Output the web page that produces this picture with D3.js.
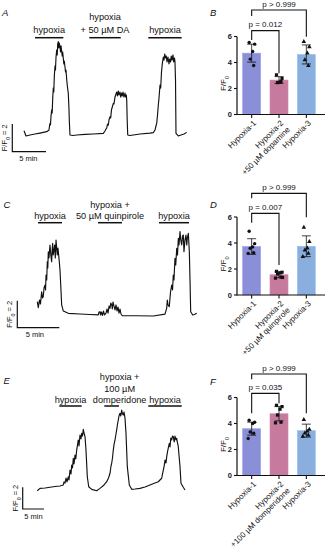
<!DOCTYPE html>
<html><head><meta charset="utf-8">
<script src="https://cdn.jsdelivr.net/npm/d3@7"></script>
<style>body{margin:0;background:#fff}svg{display:block;font-family:"Liberation Sans",Arial,sans-serif}</style>
</head><body><svg id="c" width="327" height="550"></svg>
<script>
// ---------------- DATA ----------------
// Traces: [time (min), F/F0]
const traceA = [[0,1.31],[0.30,0.93],[0.89,1.00],[1.63,1.07],[2.37,1.14],[3.37,1.24],[3.71,1.36],[3.78,1.65],[3.86,1.84],[3.93,1.72],[4.01,2.37],[4.11,2.81],[4.18,2.59],[4.26,3.67],[4.35,4.39],[4.42,4.11],[4.50,5.26],[4.60,5.98],[4.67,5.69],[4.75,6.63],[4.85,7.14],[4.93,6.78],[5.00,7.57],[5.09,7.74],[5.16,7.28],[5.24,7.64],[5.34,7.35],[5.42,6.99],[5.49,7.43],[5.59,7.06],[5.67,6.70],[5.74,6.99],[5.83,6.56],[5.91,6.13],[5.98,6.34],[6.08,5.91],[6.16,5.55],[6.23,5.69],[6.34,4.97],[6.45,4.47],[6.57,4.01],[6.68,2.81],[6.72,2.08],[6.82,1.00],[7.27,0.96],[7.82,1.00],[9.05,1.04],[10.28,1.07],[11.77,1.12],[12.02,1.29],[12.17,1.43],[12.27,1.51],[12.39,1.79],[12.51,1.72],[12.61,2.08],[12.76,2.32],[12.86,2.23],[12.98,2.81],[13.10,3.02],[13.25,3.29],[13.35,3.24],[13.50,3.74],[13.65,3.96],[13.75,4.10],[13.87,3.82],[13.99,4.18],[14.09,3.89],[14.24,4.10],[14.36,3.74],[14.47,4.03],[14.58,3.82],[14.69,4.10],[14.84,3.74],[14.99,4.03],[15.09,3.74],[15.18,3.89],[15.24,3.53],[15.31,2.08],[15.39,1.00],[15.73,0.96],[17.21,1.07],[18.69,1.14],[19.18,1.17],[19.44,1.36],[19.58,1.65],[19.69,1.84],[19.81,2.44],[19.93,3.17],[20.03,3.67],[20.18,4.61],[20.28,4.39],[20.40,5.55],[20.52,6.13],[20.67,6.63],[20.77,6.41],[20.88,6.85],[20.99,6.56],[21.11,6.70],[21.22,6.27],[21.36,6.63],[21.51,6.13],[21.62,6.49],[21.74,6.27],[21.85,6.70],[21.96,6.41],[22.11,6.78],[22.21,6.27],[22.33,6.56],[22.40,6.29],[22.48,4.97],[22.55,1.12],[22.89,0.93],[23.29,1.00],[23.74,1.07],[24.14,1.19]];
const traceC = [[0,1.91],[0.12,1.47],[0.26,2.04],[0.38,1.74],[0.52,2.65],[0.62,2.19],[0.71,2.28],[0.80,2.93],[0.92,3.15],[0.98,2.78],[1.04,3.89],[1.12,3.52],[1.19,4.87],[1.25,4.41],[1.31,5.61],[1.39,5.15],[1.51,6.11],[1.61,5.37],[1.71,4.87],[1.77,5.74],[1.83,6.24],[1.90,5.37],[1.99,5.74],[2.07,6.11],[2.14,5.15],[2.23,6.48],[2.31,5.89],[2.38,5.37],[2.46,5.89],[2.62,4.87],[2.70,4.26],[2.79,3.15],[2.90,1.67],[3.10,1.22],[3.69,1.05],[5.08,1.00],[6.27,0.96],[7.26,0.93],[7.35,1.15],[7.46,1.17],[7.52,0.93],[7.64,1.15],[7.76,0.89],[7.88,1.22],[8.00,0.93],[8.18,1.07],[8.30,1.37],[8.42,1.07],[8.54,1.59],[8.65,1.42],[8.75,1.81],[8.86,1.67],[8.93,1.37],[9.01,1.89],[9.13,1.59],[9.25,1.30],[9.37,1.67],[9.49,1.22],[9.61,1.52],[9.73,1.07],[9.85,1.37],[9.96,1.00],[10.12,0.87],[11.83,0.87],[13.81,0.85],[15.20,0.99],[15.40,1.42],[15.48,2.04],[15.56,1.67],[15.71,1.54],[15.86,2.63],[16.00,3.15],[16.10,2.78],[16.19,3.89],[16.27,3.52],[16.39,5.13],[16.48,4.63],[16.60,5.87],[16.69,5.37],[16.79,6.61],[16.87,6.11],[16.99,7.10],[17.08,6.48],[17.19,6.11],[17.29,6.78],[17.38,6.85],[17.46,5.61],[17.58,6.48],[17.70,6.85],[17.79,6.11],[17.86,6.61],[17.98,6.98],[18.10,5.61],[18.18,3.52],[18.26,1.17],[18.50,0.93],[18.71,0.96],[18.98,1.05]];
const traceE = [[0,0.84],[0.63,1.06],[1.81,1.09],[2.98,1.16],[4.15,1.23],[5.33,1.28],[6.10,1.37],[6.27,1.65],[6.50,1.53],[6.74,2.01],[6.97,1.65],[7.28,2.13],[7.44,1.83],[7.68,2.75],[7.91,2.38],[8.08,3.21],[8.26,2.94],[8.45,3.83],[8.62,3.30],[8.85,4.13],[9.04,3.77],[9.25,4.59],[9.44,5.06],[9.62,5.52],[9.79,4.96],[10.02,5.98],[10.26,5.61],[10.42,6.13],[10.61,5.88],[10.80,6.50],[10.96,6.16],[11.20,5.82],[11.43,4.59],[11.74,2.13],[12.07,1.21],[12.77,0.97],[13.94,0.84],[14.72,1.06],[15.66,1.37],[16.29,1.67],[16.71,2.01],[17.07,2.45],[17.30,3.12],[17.46,3.37],[17.65,3.86],[17.84,4.59],[18.00,5.06],[18.24,5.52],[18.47,6.07],[18.64,6.44],[18.83,6.99],[19.01,7.36],[19.18,7.73],[19.41,7.98],[19.60,7.73],[19.81,8.28],[20.00,7.91],[20.19,7.82],[20.35,8.10],[20.59,7.52],[20.82,6.13],[21.13,3.06],[21.60,1.37],[22.16,0.97],[22.93,1.00],[24.11,1.06],[25.28,1.18],[26.45,1.37],[27.63,1.55],[28.40,1.67],[28.80,1.83],[29.20,1.99],[29.39,2.38],[29.58,2.75],[29.79,3.12],[29.98,3.67],[30.21,3.40],[30.38,3.98],[30.56,4.41],[30.75,4.78],[30.99,5.21],[31.15,4.87],[31.34,5.70],[31.55,5.52],[31.74,5.88],[31.92,5.82],[32.14,5.33],[32.32,5.88],[32.56,5.52],[32.72,5.67],[32.91,5.24],[33.10,4.90],[33.26,4.13],[33.50,3.06],[33.73,1.53],[34.27,1.16],[34.67,0.91]];

// Stimulus periods (min)
const stimA = [[1.63,5.84],[9.69,14.35],[18.44,23.39]];
const stimC = [[0.08,2.94],[7.23,10.08],[14.49,18.06]];
const stimE = [[5.17,10.42],[15.73,19.18],[26.06,33.91]];
const stimLabelsA = [["hypoxia"],["hypoxia","+ 50 µM DA"],["hypoxia"]];
const stimLabelsC = [["hypoxia"],["hypoxia +","50 µM quinpirole"],["hypoxia"]];
const stimLabelsE = [["hypoxia"],["hypoxia +","100 µM","domperidone"],["hypoxia"]];

// Bar charts
const yTicks = [0,2,4,6];
const catNames = ["Hypoxia-1","Hypoxia-2","Hypoxia-3"];
const catLabelsB = [["Hypoxia-1"],["Hypoxia-2","+50 µM dopamine"],["Hypoxia-3"]];
const catLabelsD = [["Hypoxia-1"],["Hypoxia-2","+50 µM quinpirole"],["Hypoxia-3"]];
const catLabelsF = [["Hypoxia-1"],["Hypoxia-2","+100 µM domperidone"],["Hypoxia-3"]];
const meansB = [4.72, 2.65, 4.62];
const sdB = [0.69, 0.26, 0.73];
const ptsB1 = [5.54, 5.41, 4.85, 4.26, 3.77];
const ptsB2 = [3.05, 2.78, 2.48, 2.45, 2.55];
const ptsB3 = [5.60, 5.20, 4.72, 4.20, 3.75];
const meansD = [3.73, 1.56, 3.75];
const sdD = [0.60, 0.22, 0.80];
const ptsD1 = [4.90, 3.95, 3.70, 3.60, 3.25, 3.20];
const ptsD2 = [1.82, 1.75, 1.70, 1.62, 1.38, 1.30, 1.35];
const ptsD3 = [5.20, 4.10, 3.60, 3.45, 3.20, 2.95];
const meansF = [3.60, 4.75, 3.45];
const sdF = [0.50, 0.55, 0.50];
const ptsF1 = [4.25, 4.10, 4.00, 3.35, 3.25, 2.85];
const ptsF2 = [5.40, 5.30, 5.10, 4.65, 4.10, 4.05];
const ptsF3 = [4.30, 3.55, 3.40, 3.25, 3.10, 3.00];
// brackets: [from, to, level, leftEnd, rightEnd, label] (F/F0 units)
const bracketsB = [[0,1,6.45,5.73,3.17,"p = 0.012"],[0,2,8.04,7.58,5.98,"p > 0.999"]];
const bracketsD = [[0,1,6.28,5.56,2.31,"p = 0.007"],[0,2,7.82,7.44,5.98,"p > 0.999"]];
const bracketsF = [[0,1,6.32,4.78,5.55,"p = 0.035"],[0,2,7.81,7.40,4.78,"p > 0.999"]];

// ---------------- DRAWING ----------------
const svg = d3.select("#c");
const ink = "#111";
const barColors = ["#8b8fd8", "#c57a9e", "#8aaedd"];

function panelLetter(x, y, t) {
  svg.append("text").attr("x", x).attr("y", y).attr("font-size", 9.5)
    .attr("font-style", "italic").attr("fill", ink).text(t);
}

function ffLabel(g, fs) {
  g.append("tspan").text("F/F");
  g.append("tspan").attr("font-size", fs * 0.7).attr("baseline-shift", "sub").text("0");
}

function drawTrace(cfg) {
  const x = d3.scaleLinear().domain([0, 5]).range([cfg.x0, cfg.x0 + 5 * cfg.pxMin]);
  const y = d3.scaleLinear().domain([1, 3]).range([cfg.yBase, cfg.yBase - 2 * cfg.pxUnit]);
  const line = d3.line().x(d => x(d[0])).y(d => y(d[1]));
  svg.append("path").datum(cfg.trace).attr("d", line)
    .attr("fill", "none").attr("stroke", ink).attr("stroke-width", 1.15)
    .attr("stroke-linejoin", "round");
  // stimulus bars + labels
  cfg.stim.forEach((s, i) => {
    svg.append("line").attr("x1", x(s[0])).attr("x2", x(s[1]))
      .attr("y1", cfg.barY).attr("y2", cfg.barY).attr("stroke", ink).attr("stroke-width", 1.5);
    const lines = cfg.labels[i];
    const cx = (x(s[0]) + x(s[1])) / 2 + (cfg.dx[i] || 0);
    lines.forEach((t, k) => {
      svg.append("text").attr("x", cx)
        .attr("y", cfg.baseY - (lines.length - 1 - k) * cfg.lh)
        .attr("text-anchor", "middle").attr("font-size", 9.2).attr("fill", ink).text(t);
    });
  });
  // scale bar
  const [ox, oy] = cfg.sb;
  const w = x(5) - x(0), h = y(1) - y(3);
  svg.append("path").attr("d", `M${ox},${oy - h}V${oy}H${ox + w}`)
    .attr("fill", "none").attr("stroke", ink).attr("stroke-width", 1.2);
  svg.append("text").attr("x", ox + cfg.minDx).attr("y", oy + 9.5)
    .attr("text-anchor", "middle").attr("font-size", 7.5).attr("fill", ink).text("5 min");
  const t = svg.append("text").attr("transform", `translate(${ox - 5},${oy - h / 2}) rotate(-90)`)
    .attr("text-anchor", "middle").attr("font-size", 7.5).attr("fill", ink);
  ffLabel(t, 7.5);
  t.append("tspan").text(" = 2");
}

function drawBars(cfg) {
  const y = d3.scaleLinear().domain([0, 6]).range([cfg.y0, cfg.y0 - 78]);
  const x = d3.scaleBand().domain(catNames).range([238, 320]).paddingInner(0.34).paddingOuter(0.17);
  const cx = i => x(catNames[i]) + x.bandwidth() / 2;
  const g = svg.append("g");
  // bars
  cfg.means.forEach((m, i) => {
    g.append("rect").attr("x", x(catNames[i])).attr("y", y(m))
      .attr("width", x.bandwidth()).attr("height", y(0) - y(m))
      .attr("fill", barColors[i]).attr("stroke", d3.color(barColors[i]).brighter(0.3)).attr("stroke-width", 0.6);
  });
  // error bars
  cfg.means.forEach((m, i) => {
    const c = cx(i), lo = y(m - cfg.sd[i]), hi = y(m + cfg.sd[i]);
    g.append("path").attr("d", `M${c},${lo}V${hi}M${c - 4.5},${hi}H${c + 4.5}M${c - 4.5},${lo}H${c + 4.5}`)
      .attr("stroke", ink).attr("stroke-width", 0.8).attr("fill", "none");
  });
  // points
  const offs = [-2.5, 3, 1, -1.5, 2, -3.5, 3.5];
  cfg.pts.forEach((arr, i) => {
    arr.forEach((v, k) => {
      const px = cx(i) + offs[k % offs.length], py = y(v);
      if (i === 0) g.append("circle").attr("cx", px).attr("cy", py).attr("r", 1.7).attr("fill", ink);
      else if (i === 1) g.append("rect").attr("x", px - 1.6).attr("y", py - 1.6).attr("width", 3.2).attr("height", 3.2).attr("fill", ink);
      else g.append("path").attr("d", d3.symbol(d3.symbolTriangle, 9)()).attr("transform", `translate(${px},${py})`).attr("fill", ink);
    });
  });
  // axes
  g.append("line").attr("x1", 237).attr("x2", 237).attr("y1", y(0) + 0.5).attr("y2", y(6))
    .attr("stroke", ink).attr("stroke-width", 1.2);
  g.append("line").attr("x1", 237).attr("x2", 325).attr("y1", y(0)).attr("y2", y(0))
    .attr("stroke", ink).attr("stroke-width", 1.2);
  yTicks.forEach(t => {
    g.append("line").attr("x1", 234).attr("x2", 237).attr("y1", y(t)).attr("y2", y(t)).attr("stroke", ink).attr("stroke-width", 1.1);
    g.append("text").attr("x", 232).attr("y", y(t) + 2.7).attr("text-anchor", "end")
      .attr("font-size", 7.5).attr("font-weight", "bold").attr("fill", "#222").text(t);
  });
  catNames.forEach((c, i) => {
    g.append("line").attr("x1", cx(i)).attr("x2", cx(i)).attr("y1", y(0)).attr("y2", y(0) + 3.5).attr("stroke", ink).attr("stroke-width", 1.1);
    const lines = cfg.cats[i];
    const t = g.append("text").attr("transform", `translate(${cx(i) + 3},${y(0) + 7}) rotate(-45)`)
      .attr("text-anchor", "end").attr("font-size", 8).attr("fill", ink);
    lines.forEach((s, k) => t.append("tspan").attr("x", 0).attr("dy", k === 0 ? "0.35em" : "1.15em").text(s));
  });
  const yl = g.append("text").attr("transform", `translate(226,${cfg.y0 - 31}) rotate(-90)`)
    .attr("text-anchor", "middle").attr("font-size", 8).attr("fill", ink);
  ffLabel(yl, 8);
  // brackets
  cfg.brackets.forEach(b => {
    const x1 = cx(b[0]), x2 = cx(b[1]), yl0 = y(b[2]);
    g.append("path").attr("d", `M${x1},${y(b[3])}V${yl0}H${x2}V${y(b[4])}`)
      .attr("fill", "none").attr("stroke", ink).attr("stroke-width", 1.1);
    g.append("text").attr("x", (x1 + x2) / 2).attr("y", yl0 - 3.4).attr("text-anchor", "middle")
      .attr("font-size", 8).attr("fill", ink).text(b[5]);
  });
}

panelLetter(2, 15.5, "A");
panelLetter(3.5, 207.5, "C");
panelLetter(3.5, 384, "E");
panelLetter(210, 16, "B");
panelLetter(210, 208, "D");
panelLetter(210, 385, "F");

drawTrace({trace: traceA, x0: 24, pxMin: 6.74, yBase: 135, pxUnit: 13.85, stim: stimA, labels: stimLabelsA,
  barY: 37.7, baseY: 32.7, lh: 12.5, dx: [], sb: [12.3, 151.7], minDx: 16});
drawTrace({trace: traceC, x0: 37.3, pxMin: 8.4, yBase: 314, pxUnit: 13.5, stim: stimC, labels: stimLabelsC,
  barY: 222.7, baseY: 218.5, lh: 10.7, dx: [], sb: [17.3, 327.7], minDx: 17.5});
drawTrace({trace: traceE, x0: 37.3, pxMin: 4.26, yBase: 489, pxUnit: 10.85, stim: stimE, labels: stimLabelsE,
  barY: 406, baseY: 403, lh: 11.3, dx: [0, 8, 0], sb: [22.7, 509], minDx: 10.8});

drawBars({y0: 114.5, means: meansB, sd: sdB, pts: [ptsB1, ptsB2, ptsB3], cats: catLabelsB, brackets: bracketsB});
drawBars({y0: 295, means: meansD, sd: sdD, pts: [ptsD1, ptsD2, ptsD3], cats: catLabelsD, brackets: bracketsD});
drawBars({y0: 475.5, means: meansF, sd: sdF, pts: [ptsF1, ptsF2, ptsF3], cats: catLabelsF, brackets: bracketsF});
</script></body></html>
